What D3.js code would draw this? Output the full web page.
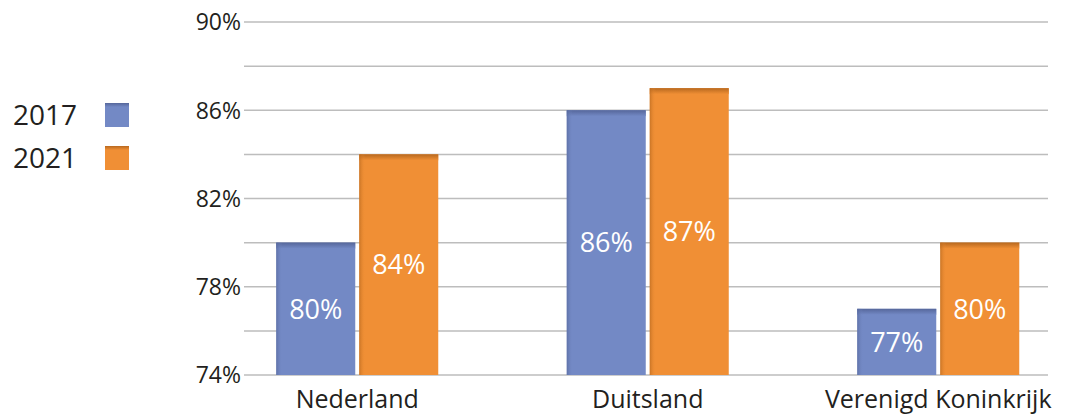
<!DOCTYPE html>
<html>
<head>
<meta charset="utf-8">
<script src="https://cdn.jsdelivr.net/npm/d3@7"></script>
<style>
  body { margin: 0; background: #fff; }
  svg { display: block; font-family: "Open Sans", "Noto Sans", sans-serif; }
</style>
</head>
<body>
<svg id="chart" width="1073" height="416"></svg>
<script>
// chart data
const categories = ["Nederland", "Duitsland", "Verenigd Koninkrijk"];
const years = ["2017", "2021"];
const values2017 = [80, 86, 77];
const values2021 = [84, 87, 80];
const tickLabels = [74, 78, 82, 86, 90];
const gridValues = [74, 76, 78, 80, 82, 84, 86, 88, 90];

const colors = { "2017": "#7389c5", "2021": "#f08f35" };
const darks = { "2017": "#56679b", "2021": "#b8691f" };

const svg = d3.select("#chart");

// gradients for the slight bevel on top and left
const defs = svg.append("defs");
years.forEach((yr) => {
  const g = defs.append("linearGradient")
    .attr("id", "top" + yr).attr("x1", 0).attr("y1", 0).attr("x2", 0).attr("y2", 1);
  g.append("stop").attr("offset", 0).attr("stop-color", darks[yr]);
  g.append("stop").attr("offset", 1).attr("stop-color", colors[yr]);
  const l = defs.append("linearGradient")
    .attr("id", "left" + yr).attr("x1", 0).attr("y1", 0).attr("x2", 1).attr("y2", 0);
  l.append("stop").attr("offset", 0).attr("stop-color", darks[yr]).attr("stop-opacity", 0.7);
  l.append("stop").attr("offset", 1).attr("stop-color", colors[yr]).attr("stop-opacity", 0);
});

const y = d3.scaleLinear().domain([74, 90]).range([375, 22]);
const x = d3.scaleBand().domain(categories).range([212, 1083.5]);

const gridLeft = 247, gridRight = 1048;

// gridlines
svg.append("g")
  .selectAll("line")
  .data(gridValues)
  .join("line")
  .attr("x1", gridLeft - 3)
  .attr("x2", gridRight)
  .attr("y1", (d) => y(d))
  .attr("y2", (d) => y(d))
  .attr("stroke", "#bdbdbd")
  .attr("stroke-width", 1.5);

// y tick labels
svg.append("g")
  .selectAll("text")
  .data(tickLabels)
  .join("text")
  .attr("x", 241)
  .attr("y", (d) => y(d))
  .attr("dy", "0.36em")
  .attr("text-anchor", "end")
  .attr("font-size", 23)
  .attr("fill", "#231f20")
  .text((d) => d + "%");

// bars
const barW = 79, gap = 4;
const rows = [];
categories.forEach((c, i) => {
  rows.push({ cat: c, yr: "2017", v: values2017[i], off: -gap / 2 - barW });
  rows.push({ cat: c, yr: "2021", v: values2021[i], off: gap / 2 });
});

const bars = svg.append("g")
  .selectAll("g")
  .data(rows)
  .join("g")
  .attr("transform", (d) => `translate(${x(d.cat) + x.bandwidth() / 2 + d.off},0)`);

bars.append("rect")
  .attr("width", barW)
  .attr("y", (d) => y(d.v))
  .attr("height", (d) => y(74) - y(d.v))
  .attr("fill", (d) => colors[d.yr]);

bars.append("rect")
  .attr("width", barW)
  .attr("y", (d) => y(d.v))
  .attr("height", 6)
  .attr("fill", (d) => `url(#top${d.yr})`);

bars.append("rect")
  .attr("width", 6)
  .attr("y", (d) => y(d.v))
  .attr("height", (d) => y(74) - y(d.v))
  .attr("fill", (d) => `url(#left${d.yr})`);

bars.append("text")
  .attr("x", barW / 2)
  .attr("y", (d) => (y(d.v) + y(74)) / 2)
  .attr("dy", "0.36em")
  .attr("text-anchor", "middle")
  .attr("font-size", 27)
  .attr("fill", "#fff")
  .text((d) => d.v + "%");

// category labels
svg.append("g")
  .selectAll("text")
  .data(categories)
  .join("text")
  .attr("x", (d) => x(d) + x.bandwidth() / 2)
  .attr("y", 408)
  .attr("text-anchor", "middle")
  .attr("font-size", 25)
  .attr("fill", "#231f20")
  .text((d) => d);

// legend
const legend = svg.append("g")
  .selectAll("g")
  .data(years)
  .join("g")
  .attr("transform", (d, i) => `translate(0,${115 + i * 43})`);

legend.append("text")
  .attr("x", 13)
  .attr("dy", "0.36em")
  .attr("font-size", 28)
  .attr("fill", "#231f20")
  .text((d) => d);

legend.append("rect")
  .attr("x", 105).attr("y", -12)
  .attr("width", 24).attr("height", 24)
  .attr("fill", (d) => colors[d]);
legend.append("rect")
  .attr("x", 105).attr("y", -12)
  .attr("width", 24).attr("height", 4)
  .attr("fill", (d) => `url(#top${d})`);
</script>
</body>
</html>
